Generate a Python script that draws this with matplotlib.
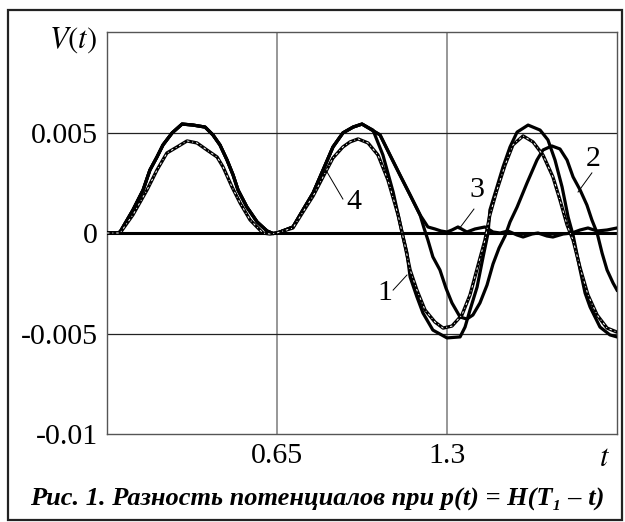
import matplotlib
matplotlib.use("Agg")
import matplotlib.pyplot as plt
from matplotlib.patches import Rectangle

plt.rcParams['font.family'] = ['Liberation Serif', 'DejaVu Serif']
plt.rcParams['mathtext.fontset'] = 'stix'

# ---- data (t, V in units of 1e-3) ----
# shared part of curves 1, 2, 3 (first hump + rise of second hump)
t_common = [0, 0.038, 0.050, 0.099, 0.138, 0.164, 0.191, 0.214, 0.249, 0.287, 0.329, 0.375,
            0.405, 0.432, 0.459, 0.482, 0.501, 0.535, 0.574, 0.612, 0.635, 0.650,
            0.661, 0.711, 0.749, 0.788, 0.826, 0.864, 0.902, 0.941, 0.975]
v_common = [0, 0, 0.05, 1.14, 2.14, 3.13, 3.78, 4.38, 4.98, 5.42, 5.37, 5.27,
            4.88, 4.38, 3.63, 2.89, 2.14, 1.29, 0.55, 0.10, -0.025, 0.0,
            0.05, 0.30, 1.14, 1.99, 3.13, 4.28, 4.98, 5.27, 5.42]

# curve 1 tail
t1_tail = [1.017, 1.055, 1.094, 1.132, 1.147, 1.159, 1.185, 1.208, 1.246, 1.300, 1.350, 1.369,
           1.388, 1.415, 1.438, 1.457, 1.464, 1.491, 1.514, 1.541, 1.568, 1.610, 1.656, 1.686,
           1.713, 1.740, 1.763, 1.782, 1.809, 1.828, 1.847, 1.885, 1.923, 1.950]
v1_tail = [5.12, 3.88, 2.04, -0.20, -1.00, -2.19, -3.18, -3.98, -4.83, -5.22, -5.17, -4.68,
           -3.83, -2.69, -1.19, 0.0, 1.14, 2.29, 3.28, 4.28, 5.02, 5.37, 5.12, 4.63,
           3.63, 2.29, 0.80, -0.10, -1.84, -2.99, -3.68, -4.68, -5.07, -5.17]

# curves 2 and 3 share the falling side of the second hump
t23_fall = [1.044, 1.082, 1.120, 1.159, 1.197]
v23_fall = [4.88, 3.88, 2.89, 1.89, 0.90]

# curve 2 tail
t2_tail = [1.212, 1.227, 1.246, 1.273, 1.296, 1.319, 1.350, 1.376, 1.399, 1.426, 1.453, 1.476,
           1.499, 1.522, 1.541, 1.568, 1.606, 1.644, 1.667, 1.701, 1.732, 1.759, 1.782, 1.809,
           1.835, 1.854, 1.874, 1.893, 1.912, 1.935, 1.950]
v2_tail = [0.25, -0.35, -1.19, -1.84, -2.74, -3.48, -4.18, -4.28, -4.08, -3.48, -2.59, -1.54,
           -0.75, -0.15, 0.55, 1.29, 2.49, 3.63, 4.13, 4.33, 4.18, 3.63, 2.79, 2.14,
           1.39, 0.65, 0.0, -1.00, -1.84, -2.49, -2.84]

# curve 3 tail
t3_tail = [1.227, 1.254, 1.277, 1.300, 1.319, 1.342, 1.376, 1.407, 1.445, 1.476, 1.503, 1.533,
           1.568, 1.591, 1.625, 1.648, 1.682, 1.705, 1.744, 1.778, 1.809, 1.839, 1.874, 1.912, 1.950]
v3_tail = [0.30, 0.20, 0.10, 0.05, 0.15, 0.30, 0.05, 0.20, 0.30, 0.05, 0.0, 0.10,
           -0.10, -0.20, -0.05, 0.0, -0.15, -0.20, -0.05, 0.0, 0.15, 0.25, 0.10, 0.15, 0.25]

# curve 4 (dash-dot)
t4 = [0, 0.038, 0.050, 0.099, 0.153, 0.191, 0.229, 0.268, 0.306, 0.344, 0.382, 0.421, 0.444,
      0.478, 0.509, 0.547, 0.596, 0.623, 0.650, 0.661, 0.711, 0.749, 0.788, 0.826, 0.864,
      0.902, 0.929, 0.960, 0.998, 1.036, 1.074, 1.113, 1.139, 1.159, 1.185, 1.216, 1.254,
      1.285, 1.319, 1.357, 1.388, 1.419, 1.445, 1.464, 1.491, 1.522, 1.552, 1.591, 1.629,
      1.667, 1.705, 1.732, 1.759, 1.782, 1.809, 1.839, 1.874, 1.912, 1.950]
v4 = [0, 0, 0, 0.90, 2.14, 3.13, 3.98, 4.28, 4.58, 4.48, 4.13, 3.78, 3.28,
      2.29, 1.49, 0.65, 0.0, -0.05, 0.0, 0.05, 0.25, 1.04, 1.84, 2.79, 3.73,
      4.28, 4.53, 4.68, 4.48, 3.88, 2.64, 0.90, -0.60, -1.84, -2.84, -3.83, -4.43,
      -4.73, -4.63, -4.08, -3.08, -1.59, -0.35, 0.90, 2.14, 3.38, 4.38, 4.83, 4.53,
      3.88, 2.79, 1.64, 0.40, -0.35, -1.74, -3.08, -4.08, -4.73, -4.93]

x_ticks = [0.65, 1.3]
x_ticklabels = ["0.65", "1.3"]
y_ticks = [-0.01, -0.005, 0, 0.005]
y_ticklabels = ["-0.01", "-0.005", "0", "0.005"]

# curve labels: (text, text pos, leader start, leader end) in (t, V*1e-3)
curve_labels = [
    ("1", (1.063, -2.99), (1.094, -2.84), (1.147, -2.09)),
    ("2", (1.858, 3.68), (1.854, 2.99), (1.801, 2.04)),
    ("3", (1.415, 2.14), (1.403, 1.19), (1.346, 0.20)),
    ("4", (0.943, 1.54), (0.902, 1.69), (0.837, 3.13)),
]

S = 1e-3
def sc(v):
    return [x * S for x in v]

fig = plt.figure(figsize=(6.25, 5.22), dpi=100)
W, H = 625, 522
ax = fig.add_axes([107 / W, 1 - 434 / H, 510 / W, 402 / H])
ax.set_xlim(0, 1.95)
ax.set_ylim(-0.01, 0.01)

# grid
for xv in x_ticks:
    ax.axvline(xv, color='#7a7a7a', lw=1.1, zorder=1)
for yv in [-0.005, 0.005]:
    ax.axhline(yv, color='#222222', lw=0.9, zorder=1)
ax.axhline(0, color='black', lw=2.2, zorder=1)

lw = 2.3
c1t = t_common + t1_tail
c1v = v_common + v1_tail
c2t = t_common + t23_fall + t2_tail
c2v = v_common + v23_fall + v2_tail
c3t = t_common + t23_fall + t3_tail
c3v = v_common + v23_fall + v3_tail

ax.plot(c3t, sc(c3v), color='black', lw=lw, solid_joinstyle='round', zorder=3)
ax.plot(c2t, sc(c2v), color='black', lw=lw, solid_joinstyle='round', zorder=3)
ax.plot(c1t, sc(c1v), color='black', lw=lw, solid_joinstyle='round', zorder=3)
ax.plot(t4, sc(v4), color='black', lw=2.4, solid_joinstyle='round', zorder=4)
ax.plot(t4, sc(v4), color='white', lw=0.7, dashes=(2.5, 3, 1, 3), zorder=5)

for txt, tp, p0, p1 in curve_labels:
    ax.text(tp[0], tp[1] * S, txt, ha='center', va='center', fontsize=21.5, zorder=6)
    ax.plot([p0[0], p1[0]], [p0[1] * S, p1[1] * S], color='black', lw=0.7, zorder=6)

ax.set_xticks(x_ticks)
ax.set_xticklabels(x_ticklabels)
ax.set_yticks(y_ticks)
ax.set_yticklabels(y_ticklabels)
ax.tick_params(length=0, labelsize=21.5, pad=6.5)
for sp in ax.spines.values():
    sp.set_color('#555555')
    sp.set_linewidth(1.0)

fig.text(97 / W, 1 - 40 / H, r'$V(t)$', ha='right', va='center', fontsize=22)
fig.text(605 / W, 1 - 459 / H, r'$t$', ha='center', va='center', fontsize=22)

fig.text(317 / W, 1 - 499 / H, "Рис. 1. Разность потенциалов при p(t) = H(T\u2081 \u2013 t)",
         ha='center', va='center', fontsize=19, fontweight='bold', fontstyle='italic')

fig.patches.append(Rectangle((8 / W, 1 - 520 / H), 614 / W, 510 / H, transform=fig.transFigure,
                             fill=False, edgecolor='#222222', lw=1.6))

fig.savefig("out.png", dpi=100)
